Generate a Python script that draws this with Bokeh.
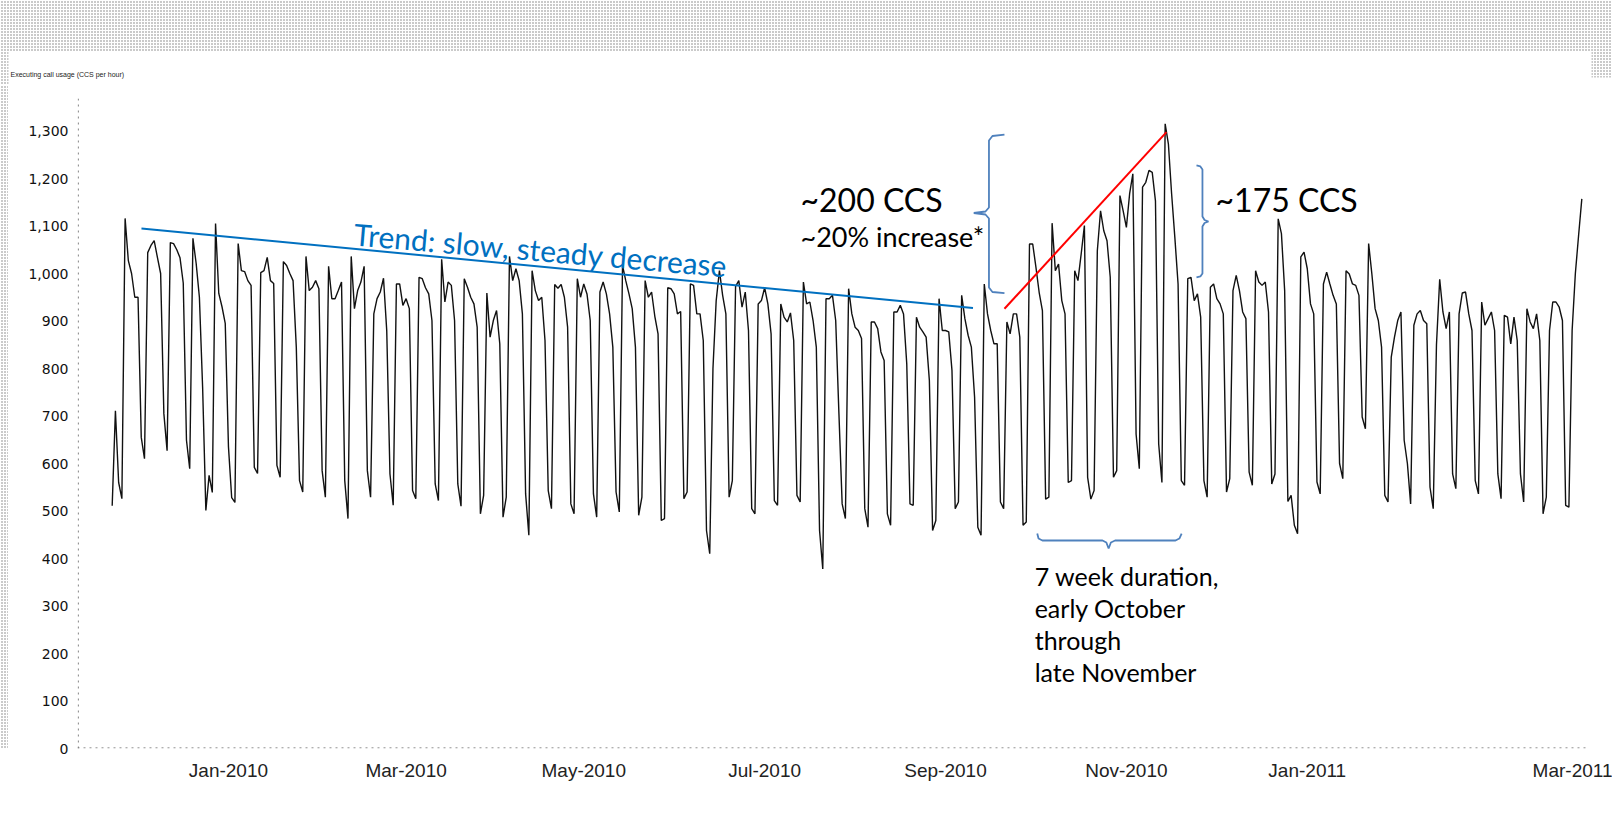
from bokeh.plotting import figure
from bokeh.layouts import column, row
from bokeh.models import Range1d, FixedTicker, NumeralTickFormatter
from bokeh.core.properties import value
from bokeh.embed import file_html
from bokeh.resources import INLINE

# Executing call usage (CCS per hour), one value per day
usage = [
    511, 711, 560, 526,
    1116, 1027, 1000, 950, 950, 655, 610,
    1044, 1059, 1069, 1034, 1000, 705, 627,
    1065, 1063, 1050, 1033, 980, 649, 589,
    1074, 1021, 950, 760, 501, 575, 539,
    1105, 958, 930, 895, 635, 528, 518,
    1063, 1006, 1004, 985, 975, 592, 579,
    1002, 1006, 1034, 985, 979, 596, 571,
    1025, 1017, 1000, 985, 845, 564, 540,
    1036, 964, 971, 985, 968, 585, 529,
    1015, 947, 947, 964, 982, 564, 484,
    1036, 926, 964, 982, 1015, 585, 529,
    915, 947, 961, 990, 880, 578, 512,
    978, 978, 933, 947, 926, 543, 526,
    992, 989, 970, 957, 901, 557, 522,
    1030, 940, 982, 975, 901, 557, 510,
    989, 971, 950, 936, 887, 494, 533,
    959, 866, 901, 922, 852, 487, 529,
    1036, 985, 1010, 985, 915, 536, 449,
    1006, 964, 943, 950, 859, 543, 505,
    977, 969, 977, 950, 887, 515, 494,
    989, 950, 978, 957, 901, 536, 487,
    961, 982, 957, 915, 845, 540, 498,
    1017, 985, 957, 926, 845, 491, 529,
    985, 950, 961, 910, 873, 480, 484,
    970, 968, 957, 915, 920, 526, 540,
    978, 975, 915, 915, 859, 459, 410,
    800, 943, 1006, 954, 915, 529, 564,
    973, 985, 929, 961, 880, 505, 494,
    936, 943, 970, 936, 873, 522, 512,
    936, 908, 898, 917, 859, 533, 519,
    982, 936, 940, 901, 845, 459, 378,
    947, 947, 954, 901, 705, 515, 484,
    968, 915, 887, 880, 863, 505, 466,
    898, 898, 884, 835, 817, 494, 470,
    919, 919, 933, 915, 810, 515, 512,
    908, 887, 877, 866, 775, 459, 480,
    947, 880, 880, 877, 796, 505, 519,
    954, 905, 870, 845, 740, 466, 449,
    978, 915, 880, 852, 852, 519, 505,
    898, 873, 915, 915, 866, 470, 477,
    1062, 1062, 1013, 960, 922, 525, 529,
    1106, 1006, 1020, 943, 915, 560, 564,
    1006, 985, 1041, 1101, 571, 525, 543,
    1048, 1132, 1090, 1069, 992, 571, 585,
    1164, 1132, 1097, 1168, 1210, 662, 589,
    1182, 1192, 1217, 1213, 1153, 641, 560,
    1315, 1273, 1168, 1076, 978, 564, 554,
    989, 992, 943, 957, 908, 564, 529,
    971, 978, 947, 936, 915, 540, 568,
    964, 996, 964, 919, 905, 582, 554,
    1006, 982, 975, 982, 919, 557, 578,
    1115, 1084, 964, 520, 533, 470, 452,
    1035, 1045, 1010, 936, 915, 561, 536,
    978, 1003, 978, 954, 936, 600, 568,
    1006, 999, 978, 975, 954, 698, 673,
    1063, 999, 926, 901, 845, 533, 519,
    824, 866, 901, 919, 649, 600, 515,
    891, 915, 922, 901, 894, 550, 505,
    850, 988, 919, 884, 919, 578, 547,
    915, 959, 961, 915, 880, 564, 536,
    940, 891, 905, 919, 880, 578, 526,
    912, 908, 852, 908, 859, 578, 519,
    926, 898, 884, 915, 859, 494, 529,
    880, 940, 940, 929, 901, 512, 508,
    880, 1000, 1080, 1157,
]
days = list(range(len(usage)))

tick_days = [36, 91, 146, 202, 258, 314, 370, 458]
tick_labels = ["Jan-2010", "Mar-2010", "May-2010", "Jul-2010",
               "Sep-2010", "Nov-2010", "Jan-2011", "Mar-2011"]
y_ticks = list(range(0, 1301, 100))

STIPPLE = dict(fill_color=None, line_color=None, hatch_pattern=".",
               hatch_color="#7a7a7a", hatch_scale=3, hatch_weight=1.5)

# ---- top strip: scanned stipple border and the axis title ----
top = figure(width=1612, height=85, x_range=Range1d(0, 1612), y_range=Range1d(85, 0),
             output_backend="svg", toolbar_location=None, x_axis_type=None, y_axis_type=None,
             min_border=0, min_border_left=0, min_border_right=0, min_border_top=0,
             min_border_bottom=0)
top.outline_line_color = None
top.grid.visible = False
top.quad(left=[0], right=[1591], top=[0], bottom=[51], **STIPPLE)
top.quad(left=[1591], right=[1612], top=[0], bottom=[77], **STIPPLE)
top.quad(left=[0], right=[8], top=[51], bottom=[85], **STIPPLE)
top.text(x=[10], y=[74], text=["Executing call usage (CCS per hour)"],
         text_font=value("Liberation Sans"), text_font_size="7px", text_color="#222222",
         text_align="left", text_baseline="middle")

# ---- left strip ----
left = figure(width=8, height=745, x_range=Range1d(0, 8), y_range=Range1d(0, 745),
              output_backend="svg", toolbar_location=None, x_axis_type=None, y_axis_type=None,
              min_border=0, min_border_left=0, min_border_right=0, min_border_top=0,
              min_border_bottom=0)
left.outline_line_color = None
left.grid.visible = False
left.quad(left=[0], right=[8], top=[745], bottom=[0], **STIPPLE)

# ---- main chart ----
p = figure(width=1604, height=745,
           x_range=Range1d(-10.74, 464.5), y_range=Range1d(0, 1395.8),
           output_backend="svg", toolbar_location=None,
           min_border_left=69, min_border_right=0, min_border_top=0, min_border_bottom=82)
p.outline_line_color = None
p.grid.visible = False
p.background_fill_color = "white"
p.border_fill_color = "white"

xa = p.xaxis[0]
xa.ticker = FixedTicker(ticks=tick_days)
xa.major_label_overrides = dict(zip(tick_days, tick_labels))
xa.major_tick_in = 0
xa.major_tick_out = 0
xa.minor_tick_in = 0
xa.minor_tick_out = 0
xa.axis_line_color = None
xa.major_label_standoff = 11
xa.major_label_text_font = "Liberation Sans"
xa.major_label_text_font_size = "19px"
xa.major_label_text_color = "#222222"

ya = p.yaxis[0]
ya.ticker = FixedTicker(ticks=y_ticks)
ya.formatter = NumeralTickFormatter(format="0,0")
ya.axis_line_color = None
ya.major_tick_in = 0
ya.major_tick_out = 0
ya.minor_tick_in = 0
ya.minor_tick_out = 0
ya.major_label_standoff = 9
ya.major_label_text_font = "DejaVu Sans"
ya.major_label_text_font_size = "14px"
ya.major_label_text_color = "#111111"

# dotted axis lines (as scanned)
p.segment(x0=[-10.5], y0=[0], x1=[-10.5], y1=[1368], line_color="#777777",
          line_dash="dotted", line_width=1)
p.segment(x0=[-10.74], y0=[1.2], x1=[457], y1=[1.2], line_color="#777777",
          line_dash="dotted", line_width=1)

# data
p.line(days, usage, line_color="#111111", line_width=1.4)

# trend line & label
p.line([9.07, 266.5], [1094.7, 927.6], line_color="#0070C0", line_width=2)
p.text(x=[74.9], y=[1084.4], text=["Trend: slow, steady decrease"], angle=-0.0855,
       text_font=value("Lato"), text_font_size="30px", text_color="#0070C0",
       text_align="left", text_baseline="middle")

# red rising line
p.line([276.25, 326.4], [925.7, 1297.5], line_color="#FF0000", line_width=2)

# brackets
bc = "#4F81BD"
p.line([276.25, 272.53, 271.45, 271.45, 270.37, 266.75, 270.37, 271.45, 271.45, 272.53, 276.25],
       [1292.6, 1289.5, 1280.0, 1138.9, 1130.5, 1127.4, 1124.2, 1115.8, 970.5, 961.1, 958.9],
       line_color=bc, line_width=1.8)
p.line([335.7, 336.9, 337.55, 337.55, 338.2, 339.4, 338.2, 337.55, 337.55, 336.9, 335.7],
       [1227.4, 1225.3, 1219.0, 1120.0, 1112.6, 1109.5, 1106.3, 1098.9, 1000.0, 993.7, 991.6],
       line_color=bc, line_width=1.8)
p.line([286.4, 286.8, 288.0, 306.6, 307.8, 308.5, 309.2, 310.5, 329.2, 330.4, 331.1],
       [452.6, 442.1, 437.9, 437.9, 433.7, 421.1, 433.7, 437.9, 437.9, 442.1, 452.6],
       line_color=bc, line_width=1.8)

# annotation texts
p.text(x=[213.1], y=[1155.8], text=["~200 CCS"], text_font=value("Lato"),
       text_font_size="32px", text_color="black", text_align="left", text_baseline="middle")
p.text(x=[213.1], y=[1077.9], text=["~20% increase*"], text_font=value("Lato"),
       text_font_size="27px", text_color="black", text_align="left", text_baseline="middle")
p.text(x=[341.6], y=[1156.8], text=["~175 CCS"], text_font=value("Lato"),
       text_font_size="32px", text_color="black", text_align="left", text_baseline="middle")
p.text(x=[285.6] * 4, y=[362.5, 295.2, 227.8, 160.4],
       text=["7 week duration,", "early October", "through", "late November"],
       text_font=value("Lato"), text_font_size="25px", text_color="black",
       text_align="left", text_baseline="middle")

layout = column(top, row(left, p, spacing=0), spacing=0)
open("out.html", "w").write(file_html(layout, INLINE))
